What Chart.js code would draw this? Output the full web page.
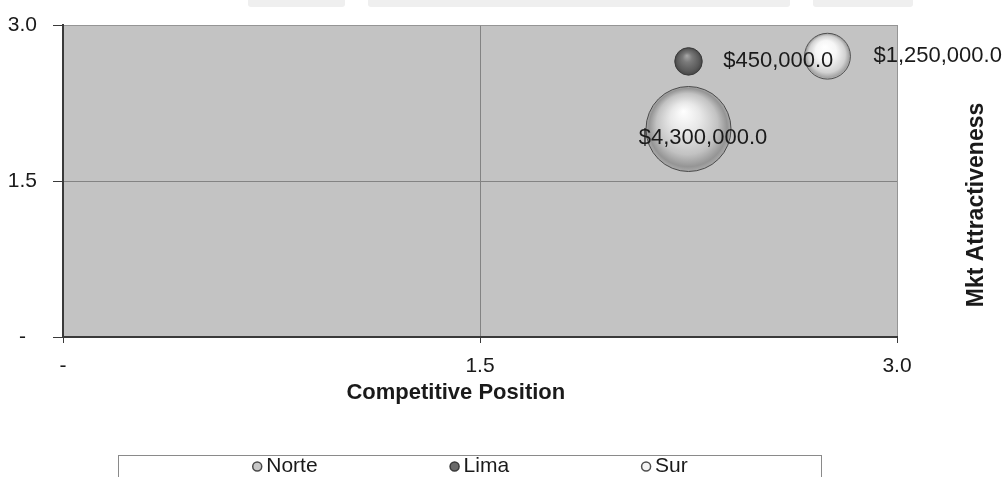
<!DOCTYPE html>
<html>
<head>
<meta charset="utf-8">
<title>Competitive Position vs Mkt Attractiveness</title>
<style>
  html, body { margin: 0; padding: 0; background: #ffffff; }
  #wrap { width: 1004px; height: 477px; position: relative; overflow: hidden; }
  canvas { display: block; }
</style>
<script src="https://cdn.jsdelivr.net/npm/chart.js@4.4.1/dist/chart.umd.min.js"></script>
</head>
<body>
<div id="wrap"><canvas id="chart" width="1004" height="477"></canvas></div>
<script>
// ---- data ----
const regions = ['Norte', 'Lima', 'Sur'];
const competitivePosition = [2.25, 2.25, 2.75];
const mktAttractiveness = [2.0, 2.65, 2.7];
const sales = [4300000, 450000, 1250000];
const axisTicks = [0, 1.5, 3.0];

// ---- look ----
const FONT = '"Liberation Sans", Arial, Helvetica, sans-serif';
const TEXT = '#1a1a1a';
const BIGGEST_RADIUS = 42.5;          // pixel radius of the largest bubble; area follows sales
const maxSales = Math.max(...sales);

const sphereLook = {
  Norte: { flat: '#c8c8c8', edge: '#4a4a4a',
           stops: [[0, '#ffffff'], [0.35, '#e8e8e8'], [0.72, '#c2c2c2'], [0.92, '#959595'], [1, '#aaaaaa']] },
  Lima:  { flat: '#6a6a6a', edge: '#3a3a3a',
           stops: [[0, '#a8a8a8'], [0.35, '#7a7a7a'], [0.8, '#5a5a5a'], [1, '#454545']] },
  Sur:   { flat: '#f4f4f4', edge: '#4f4f4f',
           stops: [[0, '#ffffff'], [0.45, '#f6f6f6'], [0.8, '#d2d2d2'], [0.95, '#a4a4a4'], [1, '#bbbbbb']] }
};
const labelSetup = {
  Norte: { placement: 'center', shift: [14.5, 8.5] },
  Lima:  { placement: 'right', gap: 21 },
  Sur:   { placement: 'right', gap: 23 }
};

function money(v) {
  return '$' + v.toLocaleString('en-US', { minimumFractionDigits: 1, maximumFractionDigits: 1 });
}

function sphereFill(look) {
  return (c) => {
    const chart = c.chart;
    if (c.type !== 'data' || !chart.chartArea) return look.flat;
    const raw = c.raw;
    const x = chart.scales.x.getPixelForValue(raw.x);
    const y = chart.scales.y.getPixelForValue(raw.y);
    const r = raw.r;
    if (!isFinite(x) || !isFinite(y) || !r) return look.flat;
    const g = chart.ctx.createRadialGradient(x - r * 0.12, y - r * 0.42, 0, x, y, r);
    look.stops.forEach(([o, col]) => g.addColorStop(o, col));
    return g;
  };
}

const datasets = regions.map((name, i) => ({
  label: name,
  data: [{
    x: competitivePosition[i],
    y: mktAttractiveness[i],
    r: BIGGEST_RADIUS * Math.sqrt(sales[i] / maxSales),
    v: sales[i]
  }],
  backgroundColor: sphereFill(sphereLook[name]),
  borderColor: sphereLook[name].edge,
  borderWidth: 1,
  hoverBorderWidth: 1,
  hoverRadius: 0,
  clip: false,
  order: sales[i] === maxSales ? 1 : 0
}));

// plot fill + the faint bars across the very top of the page
const backdrop = {
  id: 'backdrop',
  beforeDraw(chart) {
    const { ctx, chartArea: a } = chart;
    ctx.save();
    ctx.fillStyle = '#efefef';
    [[248, 97], [368, 422], [813, 100]].forEach(([x, w]) => {
      ctx.beginPath();
      ctx.roundRect(x, -6, w, 13, 3);
      ctx.fill();
    });
    ctx.fillStyle = '#c3c3c3';
    ctx.fillRect(a.left, a.top, a.right - a.left, a.bottom - a.top);
    ctx.restore();
  }
};

// dollar labels beside each bubble
const valueLabels = {
  id: 'valueLabels',
  afterDatasetsDraw(chart) {
    const ctx = chart.ctx;
    ctx.save();
    ctx.font = '22px ' + FONT;
    ctx.fillStyle = TEXT;
    ctx.textBaseline = 'middle';
    chart.data.datasets.forEach((ds, i) => {
      const setup = labelSetup[ds.label];
      chart.getDatasetMeta(i).data.forEach((pt, j) => {
        const d = ds.data[j];
        const text = money(d.v);
        if (setup.placement === 'right') {
          ctx.textAlign = 'left';
          ctx.fillText(text, pt.x + d.r + setup.gap, pt.y);
        } else {
          ctx.textAlign = 'center';
          ctx.fillText(text, pt.x + setup.shift[0], pt.y + setup.shift[1]);
        }
      });
    });
    ctx.restore();
  }
};

// axis titles and the boxed legend under the chart
const frameText = {
  id: 'frameText',
  afterDraw(chart) {
    const { ctx, chartArea: a } = chart;
    ctx.save();
    ctx.fillStyle = TEXT;
    ctx.textAlign = 'center';
    ctx.textBaseline = 'middle';
    ctx.font = 'bold 22px ' + FONT;
    ctx.fillText('Competitive Position', a.left + (a.right - a.left) * 0.471, a.bottom + 56);

    ctx.font = 'bold 23px ' + FONT;
    ctx.translate(a.right + 80, a.top + 180);
    ctx.rotate(-Math.PI / 2);
    ctx.fillText('Mkt Attractiveness', 0, 0);
    ctx.restore();

    // legend
    ctx.save();
    const boxLeft = 118.5, boxTop = a.bottom + 118.5, boxW = 703, boxH = 40;
    ctx.strokeStyle = '#8a8a8a';
    ctx.lineWidth = 1;
    ctx.strokeRect(boxLeft, boxTop, boxW, boxH);

    ctx.font = '21px ' + FONT;
    ctx.textBaseline = 'middle';
    ctx.textAlign = 'left';
    const marker = 10, gap = 4, pad = 132;
    const widths = chart.data.datasets.map(ds => marker + gap + ctx.measureText(ds.label).width);
    const total = widths.reduce((s, w) => s + w, 0) + pad * (widths.length - 1);
    let x = boxLeft + boxW / 2 - total / 2;
    const y = boxTop + 11;
    chart.data.datasets.forEach((ds, i) => {
      const look = sphereLook[ds.label];
      ctx.beginPath();
      ctx.arc(x + marker / 2, y, marker / 2 - 0.5, 0, Math.PI * 2);
      ctx.fillStyle = look.flat;
      ctx.fill();
      ctx.lineWidth = 1.5;
      ctx.strokeStyle = look.edge;
      ctx.stroke();
      ctx.fillStyle = TEXT;
      ctx.fillText(ds.label, x + marker + gap, y);
      x += widths[i] + pad;
    });
    ctx.restore();
  }
};

const tickText = v => (v === 0 ? '-' : v.toFixed(1));
const gridTone = c => {
  const v = c.tick ? c.tick.value : null;
  if (v === 0) return 'rgba(0,0,0,0)';
  if (v === 3) return '#959595';
  return '#838383';
};
// the frame is sized by layout.padding alone; drop the scales' own label overhang
const noOverhang = s => { s.paddingTop = 0; s.paddingBottom = 0; s.paddingLeft = 0; s.paddingRight = 0; };

new Chart(document.getElementById('chart'), {
  type: 'bubble',
  data: { datasets },
  options: {
    responsive: false,
    devicePixelRatio: 1,
    animation: false,
    events: [],
    layout: { autoPadding: false, padding: { top: 25, right: 107, bottom: 100, left: 0 } },
    plugins: {
      legend: { display: false },
      tooltip: { enabled: false },
      title: { display: false }
    },
    scales: {
      x: {
        type: 'linear',
        min: 0, max: 3,
        afterBuildTicks: s => { s.ticks = axisTicks.map(v => ({ value: v })); },
        afterFit: s => { s.height = 40; noOverhang(s); },
        ticks: {
          callback: tickText,
          color: TEXT,
          padding: 11,
          maxRotation: 0,
          font: { family: FONT, size: 21 }
        },
        grid: { color: gridTone, tickColor: '#3a3a3a', tickLength: 6, lineWidth: 1 },
        border: { display: true, color: '#3a3a3a', width: 2 }
      },
      y: {
        type: 'linear',
        min: 0, max: 3,
        afterBuildTicks: s => { s.ticks = axisTicks.map(v => ({ value: v })); },
        afterFit: s => { s.width = 63; noOverhang(s); },
        ticks: {
          callback: tickText,
          color: TEXT,
          padding: 16,
          crossAlign: 'center',
          font: { family: FONT, size: 21 }
        },
        grid: { color: gridTone, tickColor: '#3a3a3a', tickLength: 10, lineWidth: 1 },
        border: { display: true, color: '#3a3a3a', width: 2 }
      }
    }
  },
  plugins: [backdrop, valueLabels, frameText]
});
</script>
</body>
</html>
